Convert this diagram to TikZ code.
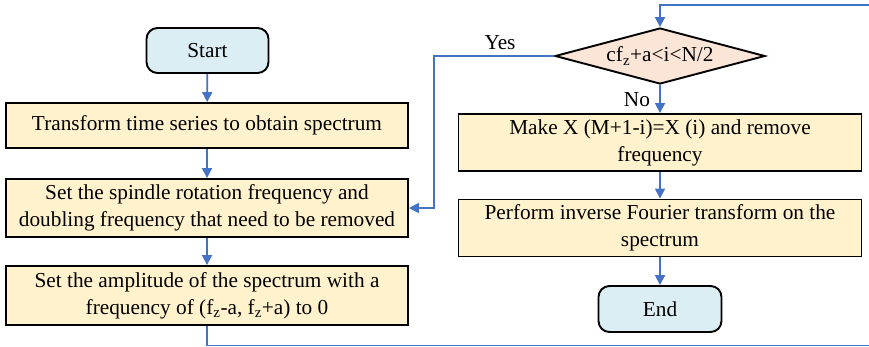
\documentclass[tikz,border=0pt]{standalone}
\usepackage{fontspec}
\setmainfont{Liberation Serif}
\usetikzlibrary{arrows.meta,shapes.geometric}
\definecolor{boxfill}{HTML}{FFF2CC}
\definecolor{termfill}{HTML}{DAEEF3}
\definecolor{diafill}{HTML}{FBE5D6}
\definecolor{arrowblue}{HTML}{4472C4}
\tikzset{
  procbox/.style={draw=black, line width=1.9pt, fill=boxfill, rectangle, minimum width=402pt, align=center, inner sep=0pt, font=\fontsize{21.3}{27}\selectfont},
  termbox/.style={draw=black, line width=1.9pt, fill=termfill, rectangle, rounded corners=11pt, minimum width=122pt, minimum height=45pt, inner sep=0pt, font=\fontsize{21.3}{27}\selectfont},
  decbox/.style={draw=black, line width=1.9pt, fill=diafill, diamond, aspect=3.75, minimum width=210pt, minimum height=56pt, inner sep=0pt, font=\fontsize{21.3}{27}\selectfont},
  lbl/.style={inner sep=0pt, font=\fontsize{21.3}{27}\selectfont},
  flow/.style={draw=arrowblue, line width=1.8pt, -{Triangle[length=10pt,width=10pt]}},
}
\begin{document}
\begin{tikzpicture}[x=1pt,y=-1pt]
\useasboundingbox (0,0) rectangle (869,346);
\clip (0,0) rectangle (869,346);
\node[termbox] (start) at (207.5,50.5) {Start};
\node[procbox, minimum height=45pt] (b1) at (207,125.5) {Transform time series to obtain spectrum};
\node[procbox, minimum height=58pt] (b2) at (207,208) {Set the spindle rotation frequency and\\doubling frequency that need to be removed};
\node[procbox, minimum height=59pt] (b3) at (207,295.5) {Set the amplitude of the spectrum with a\\frequency of (f\textsubscript{z}-a, f\textsubscript{z}+a) to 0};
\node[decbox] (dia) at (660,56) {cf\textsubscript{z}+a<i<N/2};
\node[procbox, minimum width=403pt, minimum height=57pt] (b4) at (660,142.5) {Make X (M+1-i)=X (i) and remove\\frequency};
\node[procbox, minimum width=403pt, minimum height=57pt] (b5) at (660,228) {Perform inverse Fourier transform on the\\spectrum};
\node[termbox, minimum width=123pt, minimum height=46pt] (end) at (660,309) {End};
\node[lbl] (yes) at (500,43) {Yes};
\node[lbl] (no) at (637,100) {No};
\coordinate (yk) at (434,208);
\coordinate (lb) at (873,345.5);
\coordinate (lt) at (873,5);
\draw[flow] (start) -- (b1);
\draw[flow] (b1) -- (b2);
\draw[flow] (b2) -- (b3);
\draw[flow] (dia) -- (b4);
\draw[flow] (b4) -- (b5);
\draw[flow] (b5) -- (end);
\draw[flow] (dia.west) -| (yk) -- (b2.east);
\draw[flow] (b3.south) |- (lb) -- (lt) -| (dia.north);
\end{tikzpicture}
\end{document}
